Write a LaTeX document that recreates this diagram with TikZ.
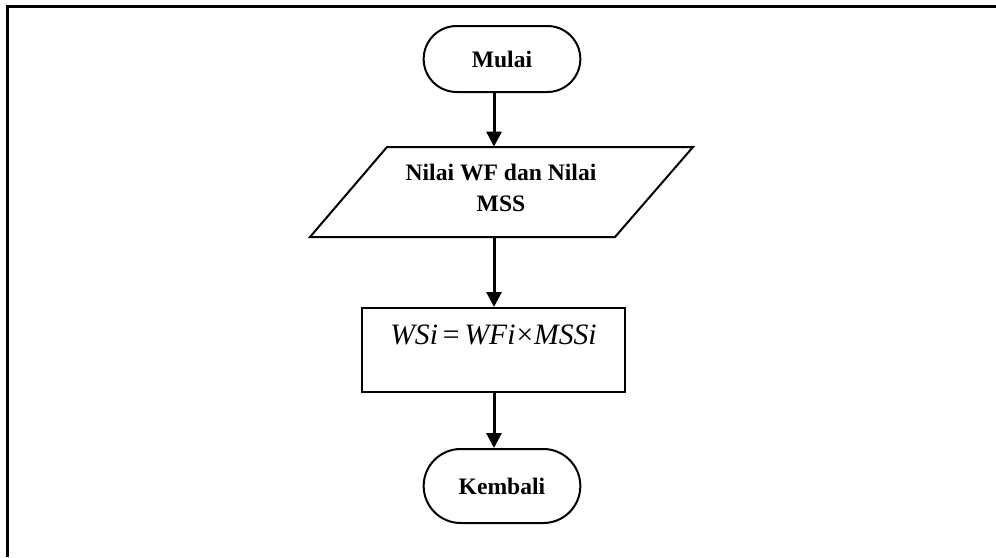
\documentclass[tikz,border=0pt]{standalone}
\usepackage{fontspec}
\setmainfont{Liberation Serif}
\usetikzlibrary{arrows.meta,shapes.misc}
\tikzset{
  terminal/.style={rounded rectangle, draw, line width=1pt, minimum width=85pt,
    font=\fontsize{11.8}{13}\selectfont\bfseries},
  process/.style={rectangle, draw, line width=1pt},
  plain/.style={inner sep=0pt, align=center},
  flow/.style={line width=1.5pt, -{Triangle[length=7.5pt,width=7.5pt]}},
  frame/.style={line width=1.5pt}
}
\begin{document}
\begin{tikzpicture}[x=0.5pt,y=-0.5pt]
  \useasboundingbox (0,0) rectangle (996,557);
  % outer frame (top and left edges)
  \draw[frame] (7,557) -- (7,6) -- (996,6);

  % column of the connectors
  \coordinate (ax) at (494,0);

  % start
  \node[terminal, minimum height=33pt] (mulai) at (502,59) {Mulai};

  % input: parallelogram
  \coordinate (ptl) at (387,147);
  \coordinate (ptr) at (693,147);
  \coordinate (pbr) at (615,237);
  \coordinate (pbl) at (310,237);
  \draw[line width=1pt] (ptl) -- (ptr) -- (pbr) -- (pbl) -- cycle;
  \node[plain, minimum height=45pt] (input) at (501,192) {};
  \node[plain, font=\fontsize{11.8}{15.5}\selectfont\bfseries] (inputtext) at (501,187.5)
    {Nilai WF dan Nilai\\MSS};

  % process
  \node[process, minimum width=131.5pt, minimum height=42pt] (calc) at (493.5,350) {};
  \node[plain, font=\fontsize{14.8}{17}\selectfont] (calctext) at (493.5,335)
    {\textit{WSi}\,=\,\textit{WFi}\kern0.5pt×\kern0.5pt\textit{MSSi}};

  % end
  \node[terminal, minimum height=37pt] (kembali) at (502,486) {Kembali};

  % connectors
  \draw[flow] (mulai.south -| ax) -- (input.north -| ax);
  \draw[flow] (input.south -| ax) -- (calc.north -| ax);
  \draw[flow] (calc.south -| ax) -- (kembali.north -| ax);
\end{tikzpicture}
\end{document}
